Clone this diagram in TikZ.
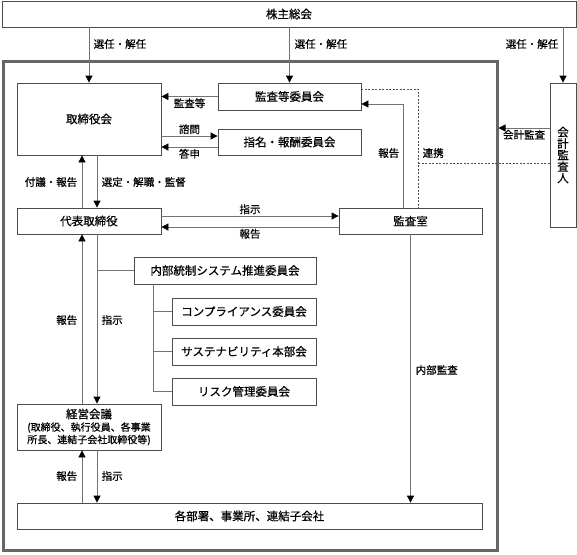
\documentclass[tikz,border=0pt]{standalone}
\usepackage{fontspec}
\setmainfont{Noto Sans CJK JP}[FakeBold=0.6]
\usetikzlibrary{arrows.meta}

\begin{document}
\begin{tikzpicture}[x=1pt,y=-1pt,
    box/.style={draw=black!70,line width=0.8pt,inner sep=0pt,font=\fontsize{11.5}{13}\selectfont},
    lbl/.style={inner sep=1.5pt,font=\fontsize{10.5}{12}\selectfont},
    ln/.style={draw=black!55,line width=0.8pt},
    arr/.style={ln,-{Triangle[width=7pt,length=7pt,color=black]}},
    dotline/.style={draw=black!70,line width=0.8pt,dash pattern=on 2pt off 1.5pt}]
        \useasboundingbox (0,0) rectangle (577,554);
        \draw[black!60,line width=3pt](3,61.5) rectangle (497,550.5);
        \coordinate (frameR) at (498.5,128);
        \node[box,minimum width=574pt,minimum height=26pt] (kabunushi) at (289,14) {株主総会};
        \node[box,minimum width=144pt,minimum height=72pt] (torikai) at (89,119) {取締役会};
        \node[box,minimum width=143pt,minimum height=27pt] (kansaiin) at (289.5,96.5) {監査等委員会};
        \node[box,minimum width=143pt,minimum height=26pt] (shimei) at (289.5,142) {指名・報酬委員会};
        \node[box,minimum width=144pt,minimum height=26pt] (daihyo) at (89,221) {代表取締役};
        \node[box,minimum width=143pt,minimum height=26pt] (kansashitsu) at (410.5,221) {監査室};
        \node[box,minimum width=26pt,minimum height=144pt,align=center,font=\fontsize{11.5}{11.5}\selectfont] (kaikei) at (563,155) {会\\計\\監\\査\\人};
        \node[box,minimum width=182pt,minimum height=27pt] (naibu) at (225,270.5) {内部統制システム推進委員会};
        \node[box,minimum width=144pt,minimum height=27pt] (comp) at (244,311.5) {コンプライアンス委員会};
        \node[box,minimum width=144pt,minimum height=27pt] (sust) at (244,351.5) {サステナビリティ本部会};
        \node[box,minimum width=144pt,minimum height=27pt] (risk) at (244,391.5) {リスク管理委員会};
        \node[box,minimum width=144pt,minimum height=46pt,align=center,font=\fontsize{10}{12.5}\selectfont] (keiei) at (89,427) {{\fontsize{11.5}{13}\selectfont 経営会議}\\(取締役、執行役員、各事業\\所長、連結子会社取締役等)};
        \node[box,minimum width=465pt,minimum height=26pt] (kakubu) at (249.5,516) {各部署、事業所、連結子会社};
        \draw[arr](kabunushi.south -| torikai.north) -- (torikai.north);
        \draw[arr](kabunushi.south -| kansaiin.north) -- (kansaiin.north);
        \draw[arr](kabunushi.south -| kaikei.north) -- (kaikei.north);
        \node[lbl,anchor=west] (sennin1) at (92,44) {選任・解任};
        \node[lbl,anchor=west] (sennin2) at (293,44) {選任・解任};
        \node[lbl,anchor=east] (sennin3) at (560,44) {選任・解任};
        \draw[arr](kansaiin.west) -- (kansaiin.west -| torikai.east) node[lbl,midway,below] (kansatou) {監査等};
        \draw[arr]([yshift=6pt]shimei.west -| torikai.east) -- ([yshift=6pt]shimei.west) node[lbl,midway,above] (shimon) {諮問};
        \draw[arr]([yshift=-5pt]shimei.west) -- ([yshift=-5pt]shimei.west -| torikai.east) node[lbl,midway,below] (toshin) {答申};
        \draw[arr]([xshift=-7pt]daihyo.north) -- ([xshift=-7pt]torikai.south);
        \draw[arr]([xshift=8pt]torikai.south) -- ([xshift=8pt]daihyo.north);
        \node[lbl,anchor=east] (fugi) at (79,182) {付議・報告};
        \node[lbl,anchor=west] (sentei) at (100,182) {選定・解職・監督};
        \draw[arr]([yshift=5pt]daihyo.east) -- ([yshift=5pt]kansashitsu.west) node[lbl,midway,above] (shiji1) {指示};
        \draw[arr]([yshift=-6pt]kansashitsu.west) -- ([yshift=-6pt]daihyo.east) node[lbl,midway,below] (hokoku1) {報告};
        \draw[arr]([xshift=-7.5pt]kansashitsu.north) |- ([yshift=-7.5pt]kansaiin.east);
        \node[lbl,anchor=east] (hokoku2) at (401,153) {報告};
        \draw[dotline]([yshift=7.5pt]kansaiin.east) -| ([xshift=7.5pt]kansashitsu.north);
        \coordinate (renkei) at (418,163);
        \draw[dotline](renkei) -- (renkei -| kaikei.west);
        \node[lbl,anchor=west] (renkeilbl) at (421,153) {連携};
        \draw[arr]([yshift=27pt]kaikei.west) -- (frameR) node[lbl,midway,below] (kaikeikansa) {会計監査};
        \draw[arr]([xshift=-7pt]keiei.north) -- ([xshift=-7pt]daihyo.south);
        \draw[arr]([xshift=8pt]daihyo.south) -- ([xshift=8pt]keiei.north);
        \node[lbl,anchor=east] (hokoku3) at (79,320) {報告};
        \node[lbl,anchor=west] (shiji2) at (100,320) {指示};
        \draw[ln]([xshift=8pt]daihyo.south |- naibu.west) -- (naibu.west);
        \coordinate (trunk) at ([xshift=-72pt]naibu.south);
        \draw[ln](trunk) |- (risk.west);
        \draw[ln](trunk |- comp.west) -- (comp.west);
        \draw[ln](trunk |- sust.west) -- (sust.west);
        \draw[arr](kansashitsu.south) -- (kansashitsu.south |- kakubu.north);
        \node[lbl,anchor=west] (naibukansa) at (414,370) {内部監査};
        \draw[arr]([xshift=-7pt]kakubu.north -| keiei.south) -- ([xshift=-7pt]keiei.south);
        \draw[arr]([xshift=8pt]keiei.south) -- ([xshift=8pt]kakubu.north -| keiei.south);
        \node[lbl,anchor=east] (hokoku4) at (79,476) {報告};
        \node[lbl,anchor=west] (shiji3) at (100,476) {指示};
    \end{tikzpicture}
\end{document}
